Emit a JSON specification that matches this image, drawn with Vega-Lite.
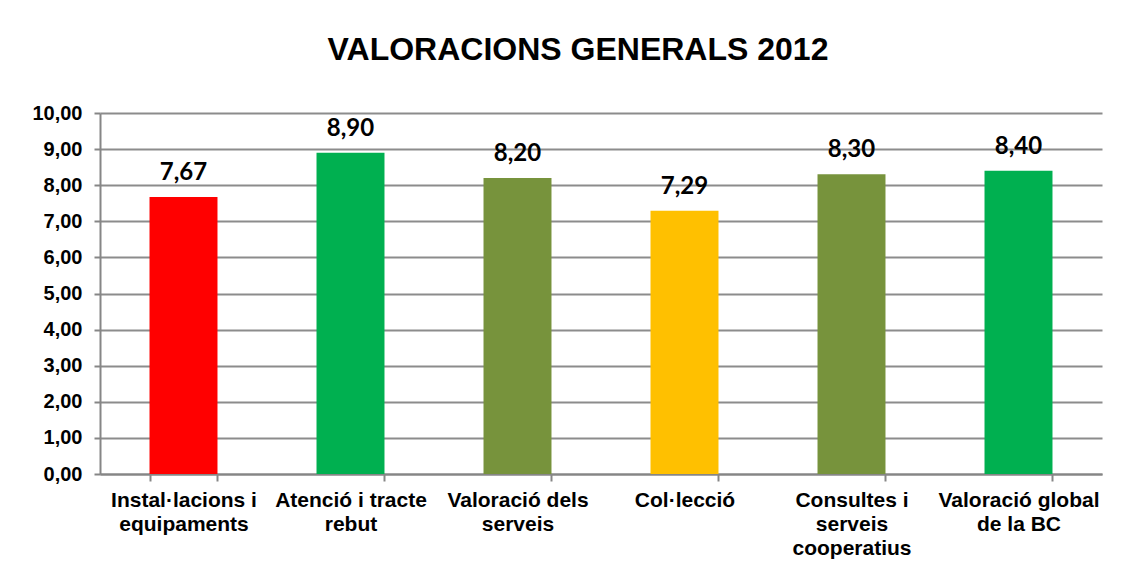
{
  "$schema": "https://vega.github.io/schema/vega-lite/v6.json",
  "autosize": {"type": "none"},
  "width": 1002,
  "height": 361,
  "padding": {"left": 100, "top": 113, "right": 29, "bottom": 104},
  "background": "white",
  "title": {
    "text": "VALORACIONS GENERALS 2012",
    "font": "Liberation Sans",
    "fontSize": 32,
    "fontWeight": "bold",
    "color": "black",
    "anchor": "middle",
    "baseline": "alphabetic",
    "dx": -23,
    "offset": 11
  },
  "data": {
    "values": [
      {"cat": "Instal·lacions i equipaments", "v": 7.67},
      {"cat": "Atenció i tracte rebut", "v": 8.90},
      {"cat": "Valoració dels serveis", "v": 8.20},
      {"cat": "Col·lecció", "v": 7.29},
      {"cat": "Consultes i serveis cooperatius", "v": 8.30},
      {"cat": "Valoració global de la BC", "v": 8.40}
    ]
  },
  "transform": [
    {"calculate": "replace(format(datum.v, '.2f'), '.', ',')", "as": "lbl"}
  ],
  "encoding": {
    "x": {
      "field": "cat",
      "type": "nominal",
      "sort": null,
      "scale": {"paddingInner": 0.593, "paddingOuter": 0.2965},
      "axis": {
        "title": null,
        "labelAngle": 0,
        "labelFont": "Liberation Sans",
        "labelFontSize": 21,
        "labelFontWeight": "bold",
        "labelColor": "black",
        "labelLineHeight": 24,
        "labelBaseline": "top",
        "labelPadding": 8,
        "labelLimit": 0,
        "labelOverlap": false,
        "labelExpr": "datum.value == 'Instal·lacions i equipaments' ? ['Instal·lacions i', 'equipaments'] : datum.value == 'Atenció i tracte rebut' ? ['Atenció i tracte', 'rebut'] : datum.value == 'Valoració dels serveis' ? ['Valoració dels', 'serveis'] : datum.value == 'Consultes i serveis cooperatius' ? ['Consultes i', 'serveis', 'cooperatius'] : datum.value == 'Valoració global de la BC' ? ['Valoració global', 'de la BC'] : datum.value",
        "tickBand": "extent",
        "tickSize": 7,
        "tickColor": "#868686",
        "tickWidth": 2,
        "domainColor": "#868686",
        "domainWidth": 2,
        "grid": false
      }
    },
    "y": {
      "field": "v",
      "type": "quantitative",
      "scale": {"domain": [0, 10], "nice": false},
      "axis": {
        "title": null,
        "values": [0, 1, 2, 3, 4, 5, 6, 7, 8, 9, 10],
        "labelOverlap": false,
        "labelExpr": "replace(format(datum.value, '.2f'), '.', ',')",
        "labelFont": "Liberation Sans",
        "labelFontSize": 20,
        "labelFontWeight": "bold",
        "labelColor": "black",
        "labelPadding": 12,
        "tickSize": 6,
        "tickColor": "#868686",
        "tickWidth": 2,
        "domainColor": "#868686",
        "domainWidth": 2,
        "grid": true,
        "gridColor": "#8c8c8c",
        "gridWidth": 2
      }
    }
  },
  "layer": [
    {
      "mark": {"type": "bar"},
      "encoding": {
        "color": {
          "field": "cat",
          "type": "nominal",
          "legend": null,
          "scale": {
            "domain": ["Instal·lacions i equipaments", "Atenció i tracte rebut", "Valoració dels serveis", "Col·lecció", "Consultes i serveis cooperatius", "Valoració global de la BC"],
            "range": ["#FF0000", "#00B050", "#77933C", "#FFC000", "#77933C", "#00B050"]
          }
        }
      }
    },
    {
      "mark": {
        "type": "text",
        "font": "Lato",
        "fontSize": 24,
        "fontWeight": "bold",
        "color": "black",
        "baseline": "alphabetic",
        "dy": -17
      },
      "encoding": {
        "text": {"field": "lbl"}
      }
    }
  ],
  "config": {
    "view": {"stroke": null}
  }
}
